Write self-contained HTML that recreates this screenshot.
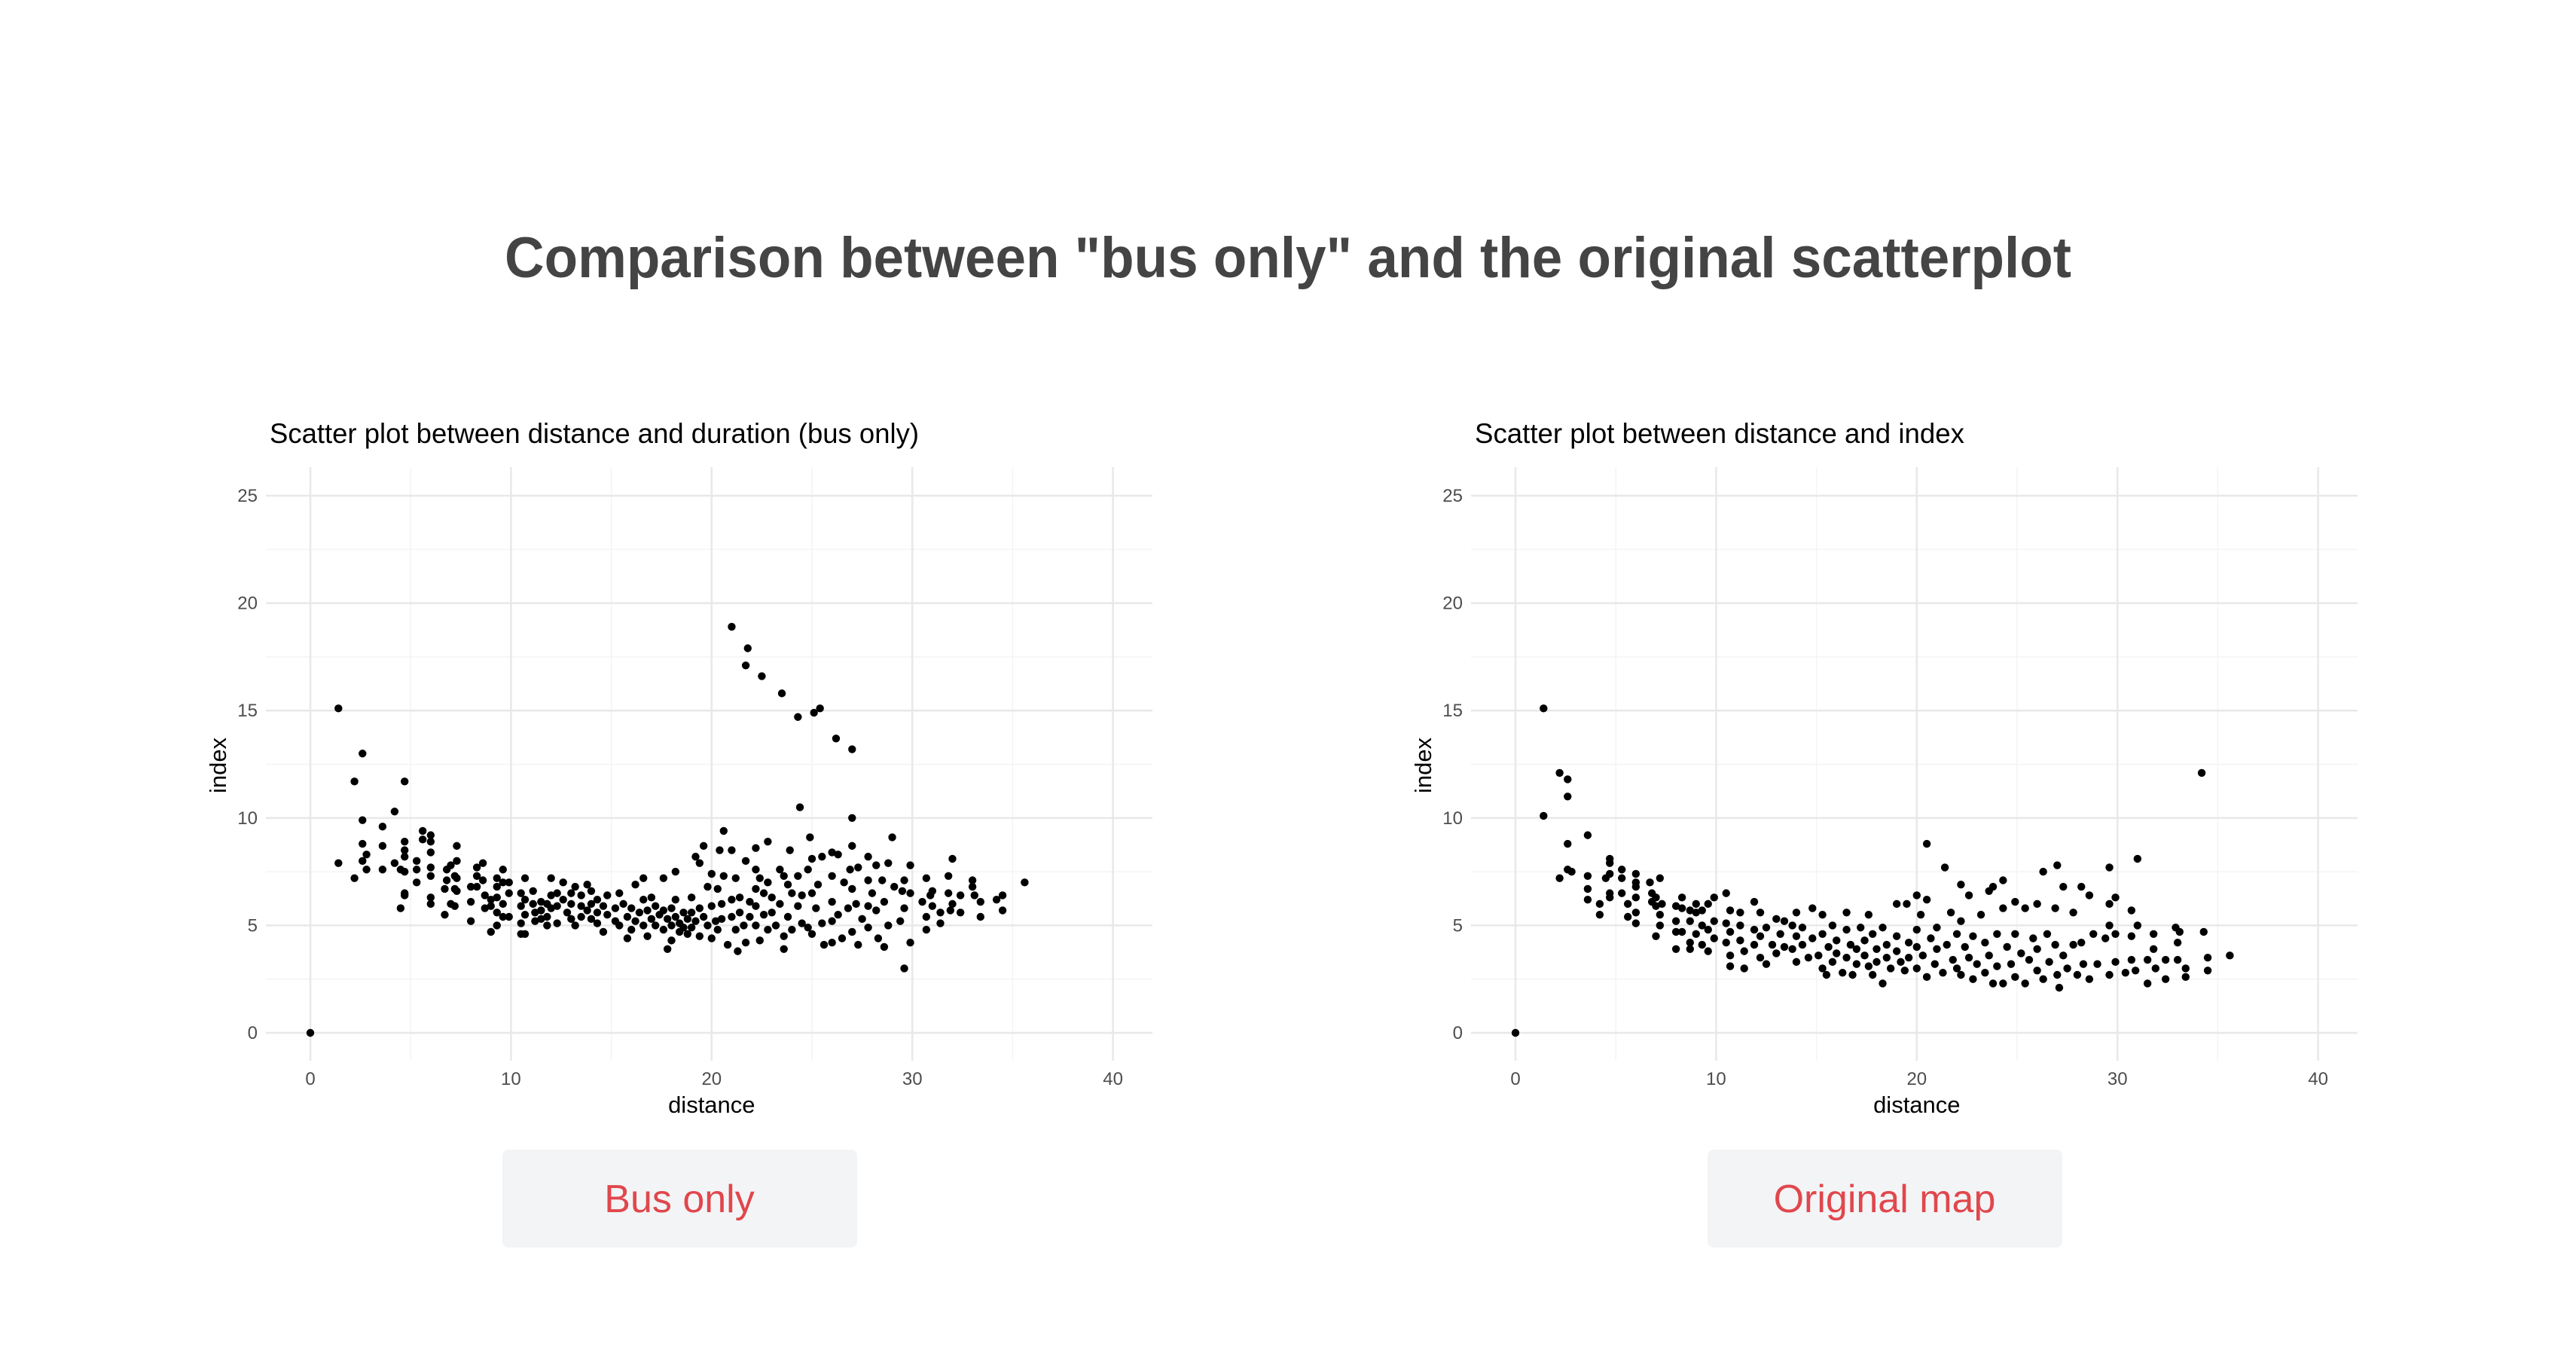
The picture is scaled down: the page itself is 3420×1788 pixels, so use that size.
<!DOCTYPE html>
<html><head><meta charset="utf-8">
<style>
html,body{margin:0;padding:0;background:#fff;}
svg{display:block;}
text{font-family:"Liberation Sans",sans-serif;}
</style></head>
<body>
<svg id="root" width="3420" height="1788" viewBox="0 0 3420 1788" xmlns="http://www.w3.org/2000/svg">
<rect width="3420" height="1788" fill="#fff"/>
<text x="670" y="368" font-size="76" font-weight="bold" fill="#444" textLength="2080" lengthAdjust="spacingAndGlyphs">Comparison between "bus only" and the original scatterplot</text>
<g id="chartL"></g>
<g id="chartR"></g>
</svg>
<script>
// ---- data: left chart (bus only) ----
const busDistance = [0,1.4,1.4,2.2,2.2,2.6,2.6,2.6,2.6,2.8,2.8,3.6,3.6,3.6,4.2,4.2,4.5,4.5,4.7,4.7,4.7,4.7,4.7,4.7,4.7,5.3,5.3,5.3,5.6,5.6,6,6,6,6,6,6,6,6.7,6.7,6.8,6.8,7,7,7.2,7.2,7.2,7.3,7.3,7.3,7.3,
8,8,8,8.3,8.3,8.3,8.6,8.6,8.7,8.7,9,9,9,9.3,9.3,9.3,9.3,9.3,9.6,9.6,9.6,9.6,9.9,9.9,9.9,10.5,10.5,10.5,10.5,10.7,10.7,10.7,10.7,11.1,11.1,11.2,11.2,11.5,11.5,11.5,11.8,11.8,11.8,12,12,12,12.3,12.3,12.3,12.6,12.6,12.8,13,13,13,13.2,13.2,13.5,13.5,13.5,13.8,13.8,14,14,14,14.3,14.3,14.3,14.6,14.6,14.8,14.8,15.2,15.2,15.4,15.4,15.6,15.8,15.8,16,16,16.2,16.2,16.4,16.6,16.6,16.6,16.8,16.8,17,17,17.2,17.2,17.4,17.6,17.6,17.6,17.8,17.8,18,18,18,18.2,18.2,18.2,18.4,18.4,18.6,18.6,18.8,18.8,19,19,19,19.2,19.2,19.4,19.4,19.4,19.6,19.6,19.8,19.8,20,20,20,20.2,20.3,20.3,20.4,20.5,20.5,20.6,20.6,20.8,21,21,21,21.2,21.2,21.3,21.4,21.4,21.6,21.7,21.7,21.9,21.9,22.2,22.2,22.2,22.2,22.2,22.4,22.4,22.6,22.6,22.8,22.8,22.8,23,23,23.2,23.4,23.4,23.6,23.6,23.6,23.8,23.8,23.9,24,24,24.3,24.3,24.5,24.5,24.8,24.8,24.9,25,25,25,25.2,25.3,25.5,25.5,25.6,26,26,26,26,26,26.3,26.3,26.5,26.6,26.8,26.9,27,27,27,27.2,27.3,27.3,27.5,27.8,27.8,27.8,27.8,28,28.2,28.2,28.3,28.5,28.6,28.6,28.8,28.8,29,29.1,29.4,29.5,29.6,29.6,29.9,29.9,29.9,30.5,30.7,30.7,30.7,30.9,31,31,31.4,31.4,31.8,31.8,31.9,32,32,32.4,32.4,33,33,33.1,33.4,33.4,34.2,
21,21.8,21.7,22.5,23.5,24.3,25.1,25.4,26.2,27,24.4,27,29.6,35.6,34.5,34.5];
const busIndex = [0,15.1,7.9,11.7,7.2,13,9.9,8.8,8.0,8.3,7.6,9.6,8.7,7.6,10.3,7.9,7.6,5.8,11.7,8.9,8.5,8.2,7.5,6.5,6.4,8.0,7.6,7.0,9.4,9.0,9.2,8.9,8.4,7.7,7.3,6.3,6.0,6.7,5.5,7.6,7.1,7.8,6.0,7.3,6.7,5.9,8.7,8.0,7.2,6.6,
6.8,6.1,5.2,7.7,7.3,6.8,7.9,7.1,6.4,5.8,6.2,5.9,4.7,7.2,6.8,6.3,5.6,5.0,7.6,7.0,6.0,5.4,7.0,6.5,5.4,6.5,5.9,5.1,4.6,7.2,6.2,5.5,4.6,6.6,6.0,5.6,5.2,6.1,5.7,5.3,6.0,5.4,5.0,7.2,6.4,5.8,6.5,5.9,5.1,7.0,6.2,5.6,6.5,6.0,5.3,6.8,5.0,6.4,5.9,5.4,6.9,5.7,6.6,6.0,5.3,6.2,5.6,5.1,5.9,4.7,6.4,5.5,5.8,5.2,6.5,5.0,6.0,5.4,4.4,5.8,4.8,6.9,5.2,5.6,7.2,6.2,5.0,5.7,4.5,6.3,5.3,5.9,5.0,5.5,7.2,5.7,4.8,5.3,3.9,5.8,5.0,4.3,7.5,6.2,5.4,5.1,4.7,5.6,4.9,5.3,4.6,6.3,5.6,4.9,8.2,5.2,7.9,5.8,4.5,8.7,5.4,6.8,5.0,7.4,5.9,4.4,5.2,6.7,4.8,8.5,6.0,5.3,9.4,7.3,4.1,8.5,6.2,5.4,7.2,4.8,3.8,6.3,5.6,5.0,8.0,4.2,6.1,5.4,8.6,7.6,6.7,5.9,5.0,7.2,4.3,6.5,5.5,8.9,7.0,4.8,6.3,5.6,5.0,7.6,6.0,7.3,4.5,3.9,6.9,5.4,8.5,6.5,4.8,7.3,5.9,6.4,5.1,7.6,4.9,9.1,8.1,6.5,4.6,5.8,6.9,8.2,5.1,4.1,8.4,7.3,6.1,5.2,4.2,8.3,5.5,4.4,7.0,5.8,7.6,8.7,6.7,4.7,6.0,7.7,4.1,5.3,8.2,7.1,5.9,4.9,6.5,7.8,5.7,4.4,7.1,6.1,4.0,7.9,5.0,9.1,6.8,5.2,6.6,7.1,5.8,7.8,6.5,4.2,6.1,7.2,5.4,4.8,6.4,5.9,6.6,5.1,5.6,6.5,7.3,5.7,6.0,8.1,5.6,6.4,7.1,6.8,6.4,6.1,5.4,6.2,
18.9,17.9,17.1,16.6,15.8,14.7,14.9,15.1,13.7,13.2,10.5,10,3,7,6.4,5.7];
// ---- data: right chart (original) ----
const origDistance = [0,1.4,1.4,2.2,2.6,2.6,2.6,2.6,2.8,2.2,3.6,3.6,3.6,3.6,4.2,4.2,4.5,4.7,4.7,4.7,4.7,4.7,5.3,5.3,5.3,5.6,5.6,6,6,6,6,6,6,
6.7,6.8,6.8,7,7,7,7.2,7.2,7.2,7.3,8,8,8,8,8.3,8.3,8.3,8.7,8.7,8.7,8.7,9,9,9,9.3,9.3,9.3,9.6,9.6,9.6,9.9,9.9,9.9,10.5,10.5,10.5,10.7,10.7,10.7,10.7,11.2,11.2,11.2,11.4,11.4,11.9,11.9,11.9,12.2,12.2,12.2,12.5,12.5,12.8,13,13,13.2,13.4,13.4,13.8,13.8,14,14,14,14.3,14.3,14.6,14.8,14.8,15.1,15.3,15.3,15.3,15.5,15.6,15.8,15.8,16,16,16.3,16.5,16.5,16.5,16.7,16.8,17,17,17.2,17.4,17.4,17.6,17.6,17.8,17.8,18,18,18.3,18.3,18.5,18.5,18.7,19,19,19,19.2,19.4,19.5,19.6,19.6,20,20,20,20,20.2,20.3,20.5,20.5,20.7,20.9,21,21,21.3,21.5,21.7,21.8,22,22,22.2,22.2,22.2,22.4,22.6,22.6,22.8,22.8,23,23.2,23.4,23.4,23.6,23.6,23.8,23.8,24,24,24.3,24.3,24.3,24.5,24.7,24.9,24.9,24.9,25.2,25.4,25.4,25.6,25.8,26,26,26,26.3,26.5,26.6,26.9,26.9,27,27.1,27.3,27.3,27.5,27.8,27.8,28,28.2,28.2,28.3,28.6,28.6,28.8,29,29.4,29.6,29.6,29.6,29.9,29.9,29.9,30.4,30.7,30.7,30.7,30.9,31,31.5,31.5,31.8,31.8,31.9,32.4,32.4,32.9,33,33,33.1,33.4,33.4,34.3,
20.5,21.4,34.2,35.6,34.5,34.5,31,29.6,27,26.3];
const origIndex = [0,15.1,10.1,12.1,11.8,11,8.8,7.6,7.5,7.2,9.2,7.3,6.7,6.2,6,5.5,7.2,8.1,7.9,7.4,6.5,6.3,7.6,7.2,6.5,6,5.4,7.4,7,6.8,6.3,5.6,5.1,
7.0,6.5,6.1,6.3,5.9,4.5,7.2,5.5,5.0,6.0,5.9,5.2,4.7,3.9,6.3,5.8,4.7,5.7,5.2,4.2,3.9,6.0,5.6,4.6,5.7,5.0,4.1,6.0,4.8,3.8,6.3,5.2,4.4,6.5,5.1,4.2,5.7,4.7,3.6,3.1,5.6,5.0,4.3,3.8,3.0,6.1,4.8,4.1,5.6,4.5,3.5,4.9,3.2,4.1,5.3,3.7,4.6,5.2,4.0,5.0,3.9,5.6,4.5,3.3,4.9,4.1,3.5,5.8,4.4,3.6,5.5,4.6,3.0,2.7,4.0,5.0,3.3,4.3,3.7,2.8,5.6,4.8,3.5,4.1,2.7,3.9,3.2,4.9,4.3,3.6,5.5,3.1,4.6,2.7,3.9,3.3,4.9,2.3,4.1,3.5,3.0,4.5,3.8,6.0,3.3,2.9,6.0,4.2,3.5,6.4,4.8,4.0,3.0,5.5,3.6,6.2,2.6,4.4,3.2,4.9,3.9,2.8,4.1,5.6,3.4,4.6,3.0,6.9,5.2,2.7,4.0,6.4,3.5,4.5,2.5,3.2,5.5,4.2,2.8,6.6,3.6,6.8,2.3,4.6,3.1,7.1,5.8,2.3,4.0,3.2,6.1,4.6,2.6,3.7,5.8,2.3,3.4,4.4,6.0,3.9,2.9,2.5,4.6,3.3,5.8,4.1,2.7,2.1,6.8,3.6,3.0,5.6,4.1,2.7,6.8,4.2,3.2,6.4,2.5,4.6,3.2,4.4,6.0,5.0,2.7,6.3,4.6,3.3,2.8,5.7,4.5,3.4,2.9,5.0,2.3,3.4,4.6,3.9,3.0,2.5,3.4,4.9,4.2,3.4,4.7,3.0,2.6,4.7,
8.8,7.7,12.1,3.6,3.5,2.9,8.1,7.7,7.8,7.5];
const xTicks = [0,10,20,30,40];
const yTicks = [0,5,10,15,20,25];

const NS = 'http://www.w3.org/2000/svg';
function mk(parent, tag, attrs, txt){
  const e = document.createElementNS(NS, tag);
  for (const k in attrs) e.setAttribute(k, attrs[k]);
  if (txt !== undefined) e.textContent = txt;
  parent.appendChild(e);
  return e;
}
function drawChart(g, dx, title, titleLen, xs, ys, btnLabel, btnName){
  const xScale = v => dx + 412 + v * 26.64;
  const yScale = v => 1371 - v * 28.52;
  const L = dx + 353, R = dx + 1530, T = 620, B = 1408;
  const t = mk(g,'text',{x:dx+358,y:588,'font-size':37,fill:'#000',textLength:titleLen,lengthAdjust:'spacingAndGlyphs'},title);
  
  
  for (let i=0;i<xTicks.length-1;i++){
    const v=(xTicks[i]+xTicks[i+1])/2;
    const l=mk(g,'line',{x1:xScale(v),x2:xScale(v),y1:T,y2:B,stroke:'#f4f4f4','stroke-width':1.5});
    
    
  }
  for (let i=0;i<yTicks.length-1;i++){
    const v=(yTicks[i]+yTicks[i+1])/2;
    const l=mk(g,'line',{x1:L,x2:R,y1:yScale(v),y2:yScale(v),stroke:'#f4f4f4','stroke-width':1.5});
    
    
  }
  xTicks.forEach(v=>{
    const l=mk(g,'line',{x1:xScale(v),x2:xScale(v),y1:T,y2:B,stroke:'#e8e8e8','stroke-width':2.5});
    
    
    const tx=mk(g,'text',{x:xScale(v),y:1440,'font-size':24,fill:'#4d4d4d','text-anchor':'middle'},String(v));
    
    
  });
  yTicks.forEach(v=>{
    const l=mk(g,'line',{x1:L,x2:R,y1:yScale(v),y2:yScale(v),stroke:'#e8e8e8','stroke-width':2.5});
    
    
    const tx=mk(g,'text',{x:dx+342,y:yScale(v)+8,'font-size':24,fill:'#4d4d4d','text-anchor':'end'},String(v));
    
    
  });
  const xl=mk(g,'text',{x:xScale(20),y:1477,'font-size':31,fill:'#000','text-anchor':'middle'},'distance');
  
  
  const yl=mk(g,'text',{x:0,y:0,'font-size':31,fill:'#000','text-anchor':'middle',transform:`translate(${dx+300},1016) rotate(-90)`},'index');
  
  
  for (let i=0;i<xs.length;i++){
    const c=mk(g,'circle',{cx:xScale(xs[i]),cy:yScale(ys[i]),r:5.2,fill:'#000'});
    
    
  }
  const b=mk(g,'g',{});
  
  
  mk(b,'rect',{x:dx+667,y:1526,width:471,height:130,rx:8,fill:'#f3f4f6'});
  mk(b,'text',{x:dx+902,y:1609,'font-size':52,fill:'#e0474c','text-anchor':'middle'},btnLabel);
}
drawChart(document.getElementById('chartL'),0,'Scatter plot between distance and duration (bus only)',862,busDistance,busIndex,'Bus only','bus-only-button');
drawChart(document.getElementById('chartR'),1600,'Scatter plot between distance and index',650,origDistance,origIndex,'Original map','original-map-button');
</script>
</body></html>
